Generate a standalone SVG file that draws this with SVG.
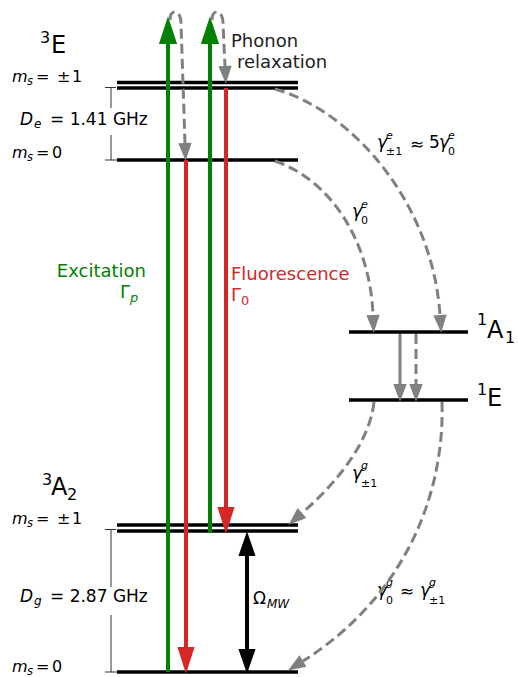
<svg xmlns="http://www.w3.org/2000/svg" width="518" height="677" viewBox="0 0 518 677">
<style>
text{font-family:"DejaVu Sans","Liberation Sans",sans-serif;fill:#000}
.it{font-style:italic}
.lvl{stroke:#000;stroke-width:3.5;fill:none}
.br{stroke:#333;stroke-width:1;fill:none}
.g{stroke:#008000;stroke-width:4;fill:none}
.r{stroke:#d62728;stroke-width:4;fill:none}
.k{stroke:#000;stroke-width:4;fill:none}
.gy{stroke:#808080;stroke-width:3;fill:none}
.gd{stroke:#808080;stroke-width:3;fill:none;stroke-dasharray:10,5}
</style>
<defs>
<marker id="ag" markerUnits="userSpaceOnUse" orient="auto" markerWidth="30" markerHeight="30" refX="0" refY="0" viewBox="-1 -10 28 20" overflow="visible"><path d="M0,-8.5 L26,0 L0,8.5 z" fill="#008000"/></marker>
<marker id="ar" markerUnits="userSpaceOnUse" orient="auto" markerWidth="30" markerHeight="30" refX="0" refY="0" viewBox="-1 -10 28 20" overflow="visible"><path d="M0,-8 L25,0 L0,8 z" fill="#d62728"/></marker>
<marker id="ak" markerUnits="userSpaceOnUse" orient="auto-start-reverse" markerWidth="30" markerHeight="30" refX="0" refY="0" viewBox="-1 -10 28 20" overflow="visible"><path d="M0,-8 L23,0 L0,8 z" fill="#000"/></marker>
<marker id="ay" markerUnits="userSpaceOnUse" orient="auto" markerWidth="20" markerHeight="20" refX="0" refY="0" viewBox="-1 -7 18 14" overflow="visible"><path d="M0,-6 L16,0 L0,6 z" fill="#808080"/></marker>
</defs>

<g id="level-3E-pm1"><line class="lvl" x1="117" y1="82.5" x2="298" y2="82.5"/><line class="lvl" x1="117" y1="88" x2="298" y2="88"/></g>
<g id="level-3E-0"><line class="lvl" x1="117" y1="160" x2="298" y2="160"/></g>
<g id="level-1A1"><line class="lvl" x1="349" y1="332" x2="468" y2="332"/></g>
<g id="level-1E"><line class="lvl" x1="349" y1="400" x2="468" y2="400"/></g>
<g id="level-3A2-pm1"><line class="lvl" x1="117" y1="525" x2="298" y2="525"/><line class="lvl" x1="117" y1="531" x2="298" y2="531"/></g>
<g id="level-3A2-0"><line class="lvl" x1="117" y1="672" x2="298" y2="672"/></g>

<g id="labels">
<text x="40" y="43" font-size="16">3</text><text x="51" y="53" font-size="24">E</text>
<text x="42" y="485" font-size="16">3</text><text x="51" y="495" font-size="24">A</text><text x="67" y="500" font-size="16">2</text>
<text x="477" y="325" font-size="16">1</text><text x="487" y="338" font-size="24">A</text><text x="505" y="343" font-size="16">1</text>
<text x="477" y="395" font-size="16">1</text><text x="487" y="406" font-size="24">E</text>

<text x="12" y="82" font-size="16" class="it">m</text><text x="27" y="85" font-size="11.5" class="it">s</text><text x="36" y="82" font-size="16">=</text><text x="57" y="82" font-size="16">±</text><text x="72" y="82" font-size="16">1</text>
<text x="12" y="158" font-size="16" class="it">m</text><text x="27" y="161" font-size="11.5" class="it">s</text><text x="36" y="158" font-size="16">=</text><text x="52" y="158" font-size="16">0</text>
<text x="12" y="524" font-size="16" class="it">m</text><text x="27" y="527" font-size="11.5" class="it">s</text><text x="36" y="524" font-size="16">=</text><text x="57" y="524" font-size="16">±</text><text x="72" y="524" font-size="16">1</text>
<text x="12" y="672" font-size="16" class="it">m</text><text x="27" y="675" font-size="11.5" class="it">s</text><text x="36" y="672" font-size="16">=</text><text x="52" y="672" font-size="16">0</text>

<text x="20" y="125" font-size="17" class="it">D</text><text x="34" y="128" font-size="12" class="it">e</text><text x="50" y="125" font-size="17">= 1.41 GHz</text>
<text x="20" y="602" font-size="17" class="it">D</text><text x="34" y="605" font-size="12" class="it">g</text><text x="50" y="602" font-size="17">= 2.87 GHz</text>

<text x="253" y="604" font-size="17">Ω</text><text x="267" y="608" font-size="12" class="it">MW</text>

<text x="146" y="277" font-size="18" text-anchor="end" style="fill:#008000">Excitation</text>
<text x="120" y="298" font-size="18" style="fill:#008000">Γ</text><text x="130" y="302" font-size="13" class="it" style="fill:#008000">p</text>
<text x="231" y="280" font-size="18" style="fill:#d62728">Fluorescence</text>
<text x="231" y="301" font-size="18" style="fill:#d62728">Γ</text><text x="241" y="305" font-size="13" style="fill:#d62728">0</text>

<text x="231" y="47" font-size="18" style="fill:#222">Phonon</text>
<text x="237" y="68" font-size="18" style="fill:#222">relaxation</text>

<text x="377" y="148" font-size="17" class="it">γ</text><text x="386" y="139" font-size="11" class="it">e</text><text x="386" y="155" font-size="11">±1</text><text x="410" y="150" font-size="17">≈</text><text x="429" y="148" font-size="17">5</text><text x="439" y="148" font-size="17" class="it">γ</text><text x="448" y="139" font-size="11" class="it">e</text><text x="448" y="155" font-size="11">0</text>
<text x="352" y="217" font-size="17" class="it">γ</text><text x="361" y="208" font-size="11" class="it">e</text><text x="361" y="224" font-size="11">0</text>
<text x="352" y="479" font-size="17" class="it">γ</text><text x="361" y="469" font-size="11" class="it">g</text><text x="361" y="487" font-size="11">±1</text>
<text x="377" y="596" font-size="17" class="it">γ</text><text x="386" y="586" font-size="11" class="it">g</text><text x="386" y="604" font-size="11">0</text><text x="400" y="597" font-size="17">≈</text><text x="420" y="596" font-size="17" class="it">γ</text><text x="429" y="586" font-size="11" class="it">g</text><text x="429" y="604" font-size="11">±1</text>
</g>

<g id="brackets">
<path class="br" d="M105,87.5 H116 M111,87.5 V108 M111,135 V160 M105,160 H117"/>
<path class="br" d="M105,529.5 H116 M111,529.5 V587 M111,615 V672 M105,672 H117"/>
</g>

<g id="connectors">
<line class="g" x1="168" y1="672" x2="168" y2="44" marker-end="url(#ag)"/>
<line class="g" x1="210" y1="533" x2="210" y2="44" marker-end="url(#ag)"/>
<line class="r" x1="186" y1="160" x2="186" y2="647" marker-end="url(#ar)"/>
<line class="r" x1="226" y1="88" x2="226" y2="507" marker-end="url(#ar)"/>
<line class="k" x1="247" y1="556" x2="247" y2="649" marker-start="url(#ak)" marker-end="url(#ak)"/>
<path class="gd" d="M170,20 C170,9 181,8 181,24 L185,143" marker-end="url(#ay)"/>
<path class="gd" d="M212,20 C212,9 223,8 223,24 L225,66" marker-end="url(#ay)"/>
<path class="gd" d="M275,89 C350,110 432,200 440,315" marker-end="url(#ay)"/>
<path class="gd" d="M275,161 C330,180 370,240 373,315" marker-end="url(#ay)"/>
<line class="gy" x1="400" y1="334" x2="400" y2="384" marker-end="url(#ay)"/>
<line class="gd" x1="416" y1="334" x2="416" y2="384" marker-end="url(#ay)"/>
<path class="gd" d="M374,402 C370,440 340,480 302,513" marker-end="url(#ay)"/>
<path class="gd" d="M442,402 C445,500 400,600 303,661" marker-end="url(#ay)"/>
</g>
</svg>
